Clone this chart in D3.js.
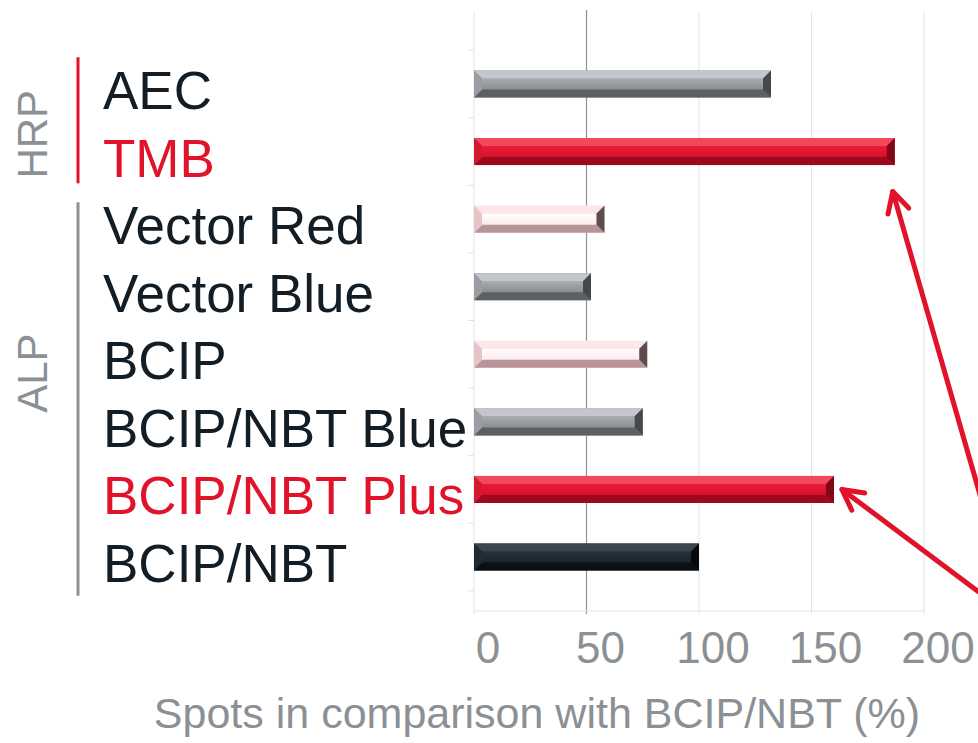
<!DOCTYPE html>
<html>
<head>
<meta charset="utf-8">
<script src="https://cdn.jsdelivr.net/npm/d3@7/dist/d3.min.js"></script>
<style>
  html, body { margin: 0; padding: 0; background: #ffffff; }
  svg { display: block; font-family: "Liberation Sans", Arial, sans-serif; }
</style>
</head>
<body>
<svg id="chart" width="978" height="743"></svg>
<script>
// ---- data ----
const categories = ["AEC", "TMB", "Vector Red", "Vector Blue", "BCIP", "BCIP/NBT Blue", "BCIP/NBT Plus", "BCIP/NBT"];
const values = [132, 187, 58, 52, 77, 75, 160, 100];
const xTicks = [0, 50, 100, 150, 200];
const groupNames = ["HRP", "ALP"];
const groupFirst = ["AEC", "Vector Red"];
const groupLast = ["TMB", "BCIP/NBT"];
const highlighted = ["TMB", "BCIP/NBT Plus"];
const axisTitle = "Spots in comparison with BCIP/NBT (%)";

// ---- styles ----
const barStyle = {
  "AEC": "gray", "TMB": "red", "Vector Red": "pink", "Vector Blue": "gray",
  "BCIP": "pink", "BCIP/NBT Blue": "gray", "BCIP/NBT Plus": "red", "BCIP/NBT": "dark"
};
const palettes = {
  gray: { top: "#c3c6cb", mainT: "#a9acb1", mainB: "#8a8d92", bottom: "#5c6064", left: "#9a9da2", right: "#44484c" },
  red:  { top: "#f2485c", mainT: "#ea1c37", mainB: "#d8102a", bottom: "#9e0a1d", left: "#d51730", right: "#7e0817" },
  pink: { top: "#fde6e9", mainT: "#ffffff", mainB: "#fbeaec", bottom: "#b89498", left: "#e7c3c7", right: "#5d4b4e" },
  dark: { top: "#3b454c", mainT: "#27313a", mainB: "#1b242b", bottom: "#0a1014", left: "#202a31", right: "#05090c" }
};
const RED = "#e1132b", DARK = "#131d25", GREY = "#8b9095";

const svg = d3.select("#chart");

const x = d3.scaleLinear().domain([0, 200]).range([474, 924]);
const y = d3.scaleBand().domain(categories).range([50.2, 590.8]).paddingInner(0.6).paddingOuter(0.3);
const step = y.step();
const plotTop = 10, plotBottom = 611;

// gridlines
svg.append("g").selectAll("line").data(xTicks).join("line")
  .attr("x1", d => x(d)).attr("x2", d => x(d))
  .attr("y1", d => d === 50 ? plotTop : plotTop + 2).attr("y2", plotBottom + 3)
  .attr("stroke", d => d === 50 ? "#8f9296" : "#e3e3e3")
  .attr("stroke-width", d => d === 50 ? 1.2 : 1);

// bottom axis line
svg.append("line").attr("x1", x(0)).attr("x2", x(200)).attr("y1", plotBottom).attr("y2", plotBottom)
  .attr("stroke", "#e3e3e3").attr("stroke-width", 1.2);

// left y-axis ticks at band boundaries
const bounds = d3.range(categories.length + 1).map(i => y.range()[0] + i * step);
svg.append("g").selectAll("line").data(bounds).join("line")
  .attr("x1", x(0) - 6).attr("x2", x(0)).attr("y1", d => d).attr("y2", d => d)
  .attr("stroke", "#e0e0e0").attr("stroke-width", 1);

// gradients
const defs = svg.append("defs");
Object.entries(palettes).forEach(([k, p]) => {
  const g = defs.append("linearGradient").attr("id", "g-" + k).attr("x1", 0).attr("y1", 0).attr("x2", 0).attr("y2", 1);
  g.append("stop").attr("offset", "0%").attr("stop-color", p.mainT);
  g.append("stop").attr("offset", "100%").attr("stop-color", p.mainB);
});

// bevelled bars
const bars = svg.append("g").selectAll("g").data(categories).join("g");
bars.each(function (c, i) {
  const g = d3.select(this);
  const p = palettes[barStyle[c]];
  const x0 = x(0), x1 = x(values[i]);
  const y0 = y(c), y1 = y(c) + y.bandwidth();
  const b = 8;
  const pts = a => a.map(q => q.join(",")).join(" ");
  g.append("rect").attr("x", x0).attr("y", y0).attr("width", x1 - x0).attr("height", y1 - y0).attr("fill", p.mainB);
  g.append("rect").attr("x", x0 + b).attr("y", y0 + b).attr("width", Math.max(0, x1 - x0 - 2 * b)).attr("height", y1 - y0 - 2 * b)
    .attr("fill", "url(#g-" + barStyle[c] + ")");
  g.append("polygon").attr("points", pts([[x0, y0], [x1, y0], [x1 - b, y0 + b], [x0 + b, y0 + b]])).attr("fill", p.top);
  g.append("polygon").attr("points", pts([[x0, y1], [x1, y1], [x1 - b, y1 - b], [x0 + b, y1 - b]])).attr("fill", p.bottom);
  g.append("polygon").attr("points", pts([[x0, y0], [x0 + b, y0 + b], [x0 + b, y1 - b], [x0, y1]])).attr("fill", p.left);
  g.append("polygon").attr("points", pts([[x1, y0], [x1 - b, y0 + b], [x1 - b, y1 - b], [x1, y1]])).attr("fill", p.right);
});

// category labels
svg.append("g").selectAll("text").data(categories).join("text")
  .attr("x", 103)
  .attr("y", c => y(c) + y.bandwidth() / 2 + 25)
  .attr("font-size", 53)
  .attr("fill", c => highlighted.includes(c) ? RED : DARK)
  .text(c => c);

// group brackets and labels
groupNames.forEach((name, gi) => {
  const top = y(groupFirst[gi]) - (y.step() - y.bandwidth()) / 2;
  const bot = y(groupLast[gi]) + y.bandwidth() + (y.step() - y.bandwidth()) / 2;
  const yt = gi === 0 ? top + 7 : top + 17;
  const yb = gi === 0 ? bot - 2 : bot + 5;
  svg.append("line").attr("x1", 78).attr("x2", 78).attr("y1", yt).attr("y2", yb)
    .attr("stroke", gi === 0 ? RED : GREY).attr("stroke-width", 3);
  const cy = gi === 0 ? (yt + yb) / 2 + 14 : (yt + yb) / 2 - 26;
  svg.append("text").attr("transform", `translate(47,${cy}) rotate(-90)`)
    .attr("text-anchor", "middle").attr("font-size", 42).attr("fill", GREY).text(name);
});

// x tick labels
svg.append("g").selectAll("text").data(xTicks).join("text")
  .attr("x", d => x(d) + 14).attr("y", 663)
  .attr("text-anchor", "middle").attr("font-size", 44).attr("fill", GREY)
  .text(d => d);

// axis title
svg.append("text").attr("x", 537).attr("y", 728).attr("text-anchor", "middle")
  .attr("font-size", 43).attr("fill", GREY).text(axisTitle);

// annotation arrows
const origin = [1016, 620];
const tips = [
  [x(values[1]) - 2, y("TMB") + y.bandwidth() / 2 + 40],
  [x(values[6]) + 8, y("BCIP/NBT Plus") + y.bandwidth() / 2]
];
const arrows = svg.append("g").attr("stroke", RED).attr("stroke-width", 5).attr("fill", "none")
  .attr("stroke-linecap", "round").attr("stroke-linejoin", "round");
tips.forEach(t => {
  arrows.append("line").attr("x1", origin[0]).attr("y1", origin[1]).attr("x2", t[0]).attr("y2", t[1]);
  const ang = Math.atan2(origin[1] - t[1], origin[0] - t[0]);
  const L = 23, a = 28 * Math.PI / 180;
  const p1 = [t[0] + L * Math.cos(ang - a), t[1] + L * Math.sin(ang - a)];
  const p2 = [t[0] + L * Math.cos(ang + a), t[1] + L * Math.sin(ang + a)];
  arrows.append("path").attr("d", `M${p1[0]},${p1[1]} L${t[0]},${t[1]} L${p2[0]},${p2[1]}`);
});
</script>
</body>
</html>
